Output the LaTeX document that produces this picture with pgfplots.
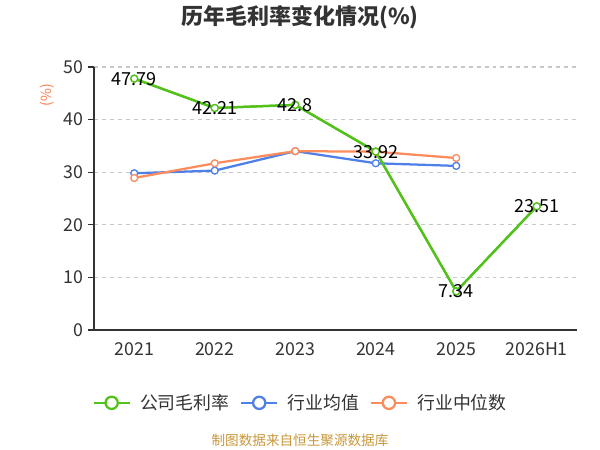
\documentclass[border=0pt]{standalone}
\usepackage{pgfplots}
\pgfplotsset{compat=1.18}
\usepackage{fontspec}
\setmainfont{Noto Sans CJK SC}
\definecolor{cgreen}{RGB}{82,194,26}
\definecolor{cblue}{RGB}{78,128,232}
\definecolor{corange}{RGB}{252,140,92}
\definecolor{csrc}{RGB}{200,152,60}
\definecolor{ctxt}{RGB}{51,51,51}
\begin{document}
\begin{tikzpicture}
\useasboundingbox[fill=white] (0,0) rectangle (450bp,337.5bp);
\node[font=\fontsize{16.5bp}{19bp}\selectfont\bfseries, text=ctxt] at (225bp,324.5bp) {历年毛利率变化情况(\%)};
\node[rotate=90, font=\fontsize{10.5bp}{12bp}\selectfont, text=corange!90!red] at (35bp,266bp) {(\%)};
\node[font=\fontsize{10.2bp}{12bp}\selectfont, text=csrc] at (225bp,7bp) {制图数据来自恒生聚源数据库};
\begin{axis}[
  at={(70.5bp,90bp)}, anchor=south west,
  scale only axis, width=362.25bp, height=197.25bp,
  xmin=-0.5, xmax=5.5, ymin=0, ymax=50,
  axis lines*=left,
  axis line style={color=ctxt, line width=0.8pt},
  xtick={0,1,2,3,4,5},
  xticklabels={2021,2022,2023,2024,2025,2026H1},
  major x tick style={draw=none},
  extra x ticks={-0.5,0.5,1.5,2.5,3.5,4.5,5.5},
  extra x tick labels={},
  extra x tick style={major tick length=4.5bp, tick style={color=ctxt, line width=0.8pt}},
  ytick={0,10,20,30,40,50},
  ymajorgrids,
  grid style={dashed, color=black!22, line width=0.8pt},
  tick align=outside,
  major tick length=4.5bp,
  ytick style={color=ctxt, line width=0.8pt},
  tick label style={font=\fontsize{13.3bp}{15bp}\selectfont, text=ctxt},
  /pgf/number format/assume math mode=true,
  xticklabel style={yshift=-1.5bp},
  legend columns=3,
  legend style={at={(axis description cs:0.4285,-0.277)}, anchor=center, draw=none, fill=none,
    font=\fontsize{13.4bp}{15bp}\selectfont, text=ctxt,
    /tikz/every even column/.append style={column sep=6bp},
    /tikz/every odd column/.append style={column sep=5bp}},
  legend image code/.code={
    \draw[#1, mark=none] (0bp,0bp) -- (27bp,0bp);
    \draw[#1, mark=none, fill=white] (13.5bp,0bp) circle (4.6bp);
  },
  every axis plot/.append style={line width=1.7pt, mark=o, mark size=2.6bp, mark options={fill=white, line width=1pt}},
]
\addplot[color=cgreen, mark=*] coordinates {(0,47.79) (1,42.21) (2,42.8) (3,33.92) (4,7.34) (5,23.51)};
\addlegendentry{公司毛利率}
\addplot[color=cblue, mark=*] coordinates {(0,29.8) (1,30.3) (2,34.0) (3,31.7) (4,31.2)};
\addlegendentry{行业均值}
\addplot[color=corange, mark=*] coordinates {(0,28.9) (1,31.7) (2,34.0) (3,33.9) (4,32.7)};
\addlegendentry{行业中位数}
\addplot[color=cgreen, mark=*, forget plot,
  point meta=explicit symbolic,
  nodes near coords, nodes near coords align={center},
  every node near coord/.append style={font=\fontsize{13.5bp}{15bp}\selectfont, text=black}]
  coordinates {(0,47.79) [47.79] (1,42.21) [42.21] (2,42.8) [42.8] (3,33.92) [33.92] (4,7.34) [7.34] (5,23.51) [23.51]};
\end{axis}
\end{tikzpicture}
\end{document}
